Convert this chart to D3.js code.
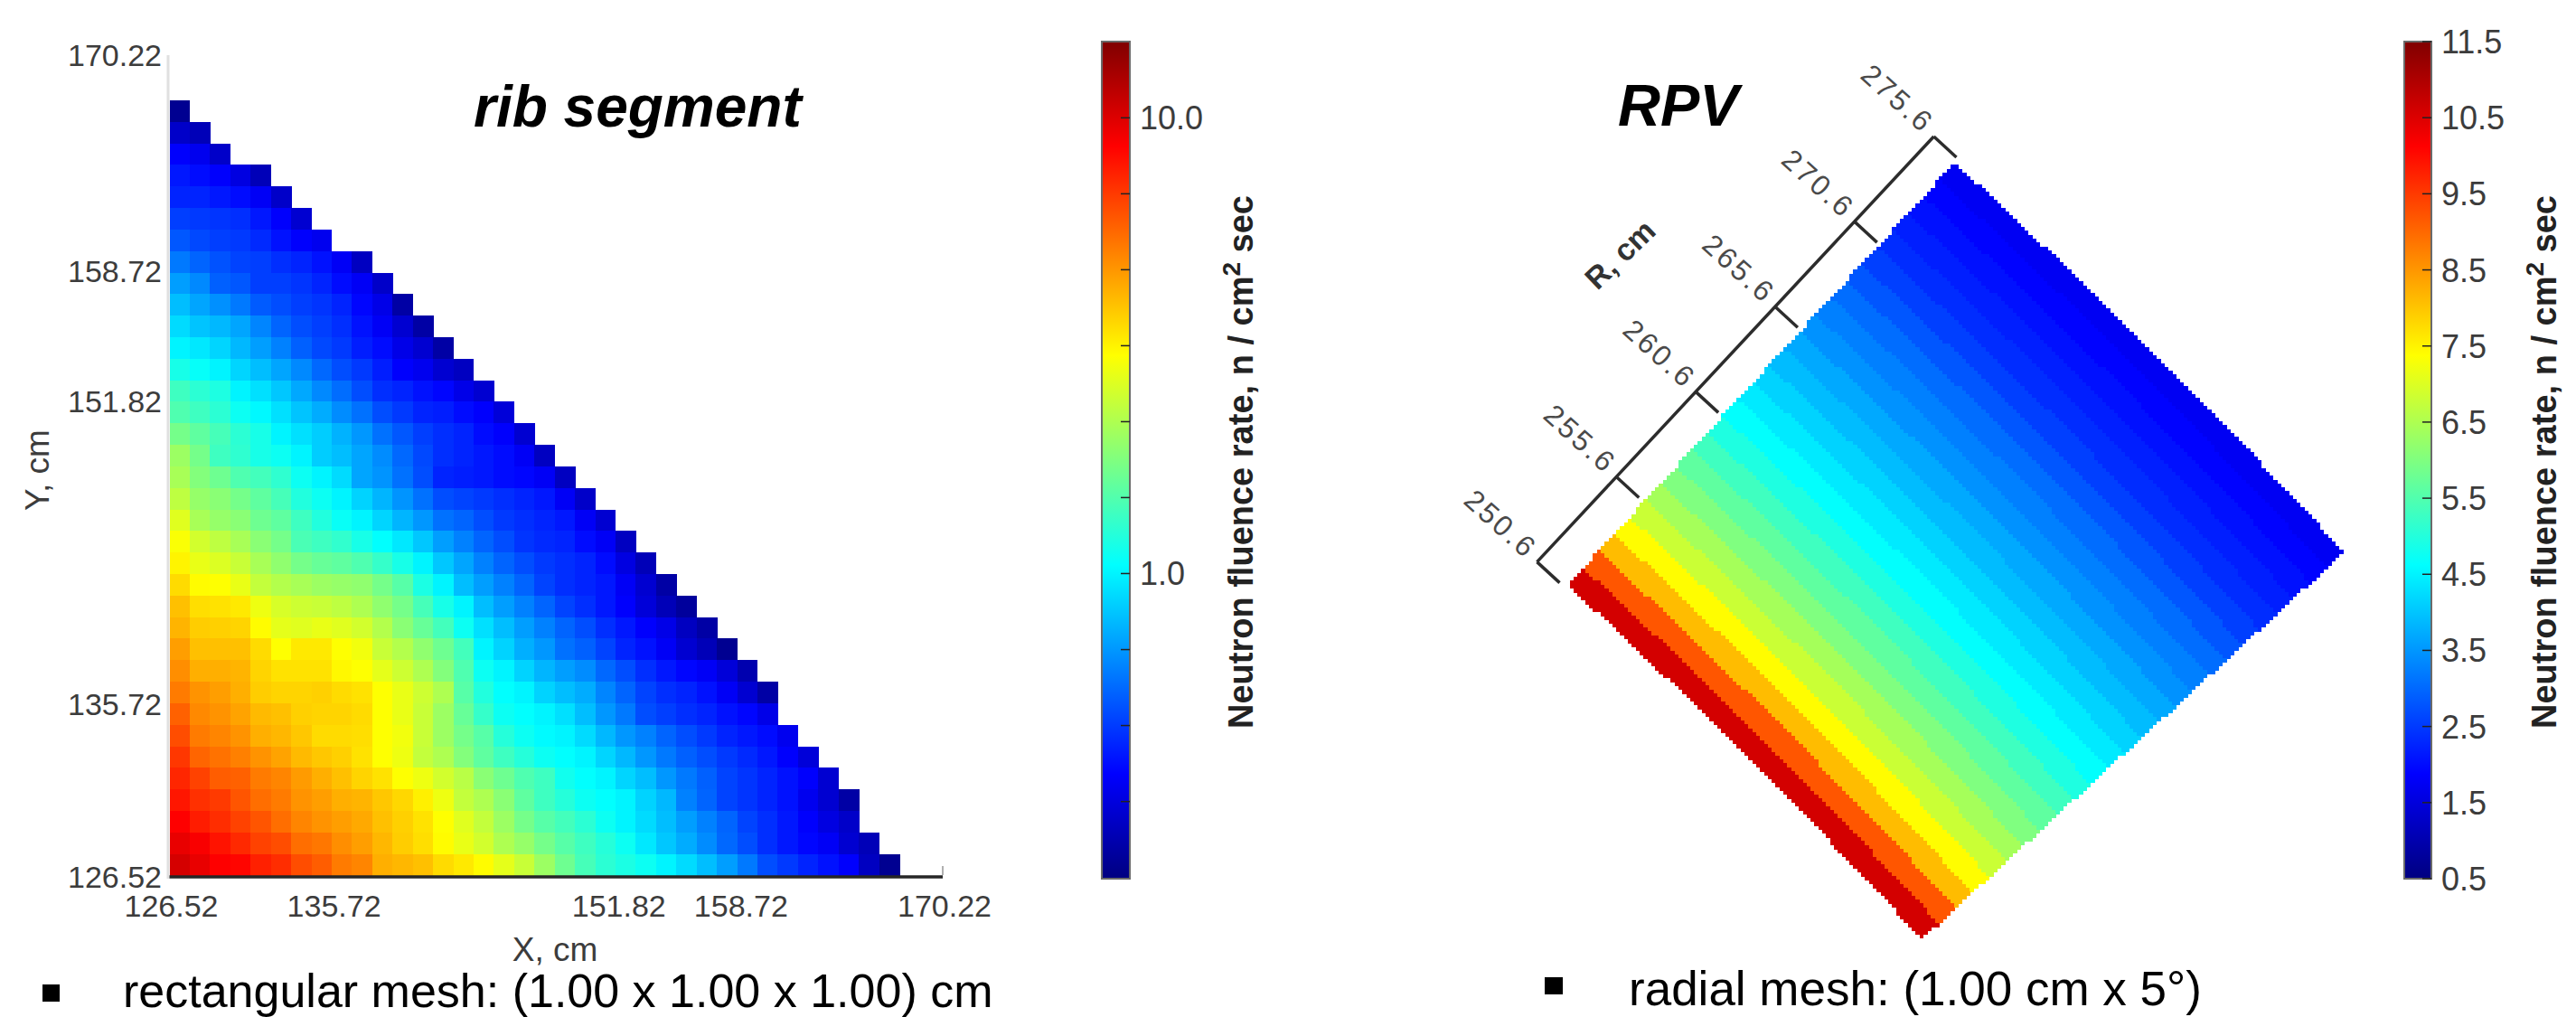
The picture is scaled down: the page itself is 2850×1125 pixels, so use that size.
<!DOCTYPE html>
<html><head><meta charset="utf-8">
<script src="https://cdn.jsdelivr.net/npm/d3@7"></script>
<style>
html,body{margin:0;padding:0;background:#fff}
svg{display:block}
text{font-family:"Liberation Sans",Arial,sans-serif}
</style></head><body>
<svg id="c" width="2850" height="1125"></svg>
<script>
// ---- rib segment: neutron fluence rate per mesh cell, top row first (rows are left-aligned at X = 126.52)
const ribRows = [
[.23],
[.29,.27],
[.36,.34,.29],
[.40,.38,.36,.32,.27],
[.42,.42,.40,.38,.35,.29],
[.47,.46,.45,.44,.40,.36,.30],
[.52,.49,.47,.46,.43,.39,.36,.34],
[.60,.55,.51,.48,.47,.44,.42,.39,.35,.28],
[.70,.64,.54,.52,.47,.47,.45,.42,.38,.35,.29],
[.80,.72,.66,.60,.53,.50,.47,.45,.42,.37,.33,.25],
[.90,.82,.78,.72,.63,.55,.50,.47,.44,.39,.35,.30,.25],
[1.0,.95,.88,.78,.70,.62,.54,.49,.46,.41,.38,.33,.30,.25],
[1.15,1.07,1.0,.88,.80,.72,.64,.56,.50,.46,.41,.36,.34,.30,.28],
[1.35,1.25,1.18,1.0,.92,.83,.73,.64,.57,.50,.44,.42,.39,.37,.33,.30],
[1.45,1.35,1.25,1.1,1.02,.92,.82,.74,.65,.58,.50,.46,.42,.41,.38,.36,.31],
[1.7,1.55,1.4,1.25,1.15,1.0,.92,.85,.76,.68,.58,.52,.47,.44,.42,.38,.36,.30],
[2.0,1.7,1.35,1.27,1.15,1.1,1.0,.85,.80,.72,.65,.56,.49,.44,.42,.40,.38,.35,.28],
[2.1,1.8,1.65,1.45,1.38,1.27,1.1,1.0,.90,.72,.67,.58,.50,.42,.41,.40,.38,.37,.35,.28],
[2.3,1.95,1.85,1.7,1.55,1.4,1.2,1.1,1.0,.87,.77,.67,.58,.50,.48,.46,.44,.42,.40,.35,.29],
[2.65,2.1,1.95,1.85,1.65,1.55,1.35,1.2,1.08,1.0,.88,.77,.68,.58,.55,.50,.46,.44,.42,.40,.35,.30],
[2.95,2.5,2.3,2.1,1.85,1.7,1.42,1.35,1.28,1.15,1.05,.95,.83,.70,.62,.55,.50,.45,.43,.42,.38,.35,.28],
[3.15,2.75,2.6,2.4,2.1,1.9,1.7,1.6,1.55,1.45,1.3,1.15,1.0,.83,.72,.62,.55,.50,.46,.44,.42,.38,.32,.27],
[3.5,3.05,3.0,2.75,2.35,2.2,2.1,2.0,1.95,1.9,1.7,1.5,1.17,1.0,.80,.70,.62,.55,.48,.44,.42,.40,.35,.30,.25],
[3.9,3.45,3.4,3.3,2.8,2.55,2.45,2.4,2.3,2.15,1.9,1.7,1.4,1.15,1.0,.80,.70,.62,.55,.48,.44,.40,.36,.31,.27,.24],
[4.1,3.7,3.65,3.6,3.05,2.7,2.65,2.75,2.65,2.5,2.2,1.85,1.6,1.38,1.1,.92,.80,.70,.62,.55,.50,.44,.40,.36,.33,.28,.25],
[4.5,3.9,3.9,3.9,3.5,3.0,3.3,3.3,3.0,2.85,2.4,2.2,1.9,1.65,1.38,1.0,.87,.75,.68,.58,.54,.48,.42,.39,.35,.30,.27,.23],
[4.8,4.2,4.2,4.1,3.6,3.4,3.4,3.4,3.1,3.0,2.7,2.45,2.15,1.8,1.45,1.1,1.0,.87,.77,.70,.65,.56,.50,.44,.40,.37,.35,.31,.26],
[5.2,4.7,4.5,4.2,3.7,3.6,3.6,3.65,3.5,3.4,3.0,2.75,2.45,2.15,1.5,1.2,1.05,1.0,.87,.80,.74,.63,.55,.48,.44,.42,.39,.35,.30,.25],
[5.8,4.9,4.7,4.4,4.0,3.9,3.65,3.6,3.6,3.5,3.0,2.75,2.4,2.0,1.6,1.3,1.1,1.05,1.0,.92,.80,.68,.60,.50,.47,.44,.42,.39,.37,.33],
[6.3,5.2,5.0,4.7,4.2,4.05,3.8,3.5,3.5,3.45,3.0,2.85,2.4,2.0,1.7,1.5,1.22,1.1,1.03,1.0,.90,.78,.68,.62,.55,.50,.46,.42,.40,.38,.34],
[6.9,5.7,5.4,5.1,4.7,4.4,4.0,3.8,3.65,3.4,3.0,2.8,2.35,2.15,1.8,1.55,1.35,1.22,1.1,1.05,1.0,.88,.78,.68,.60,.54,.50,.46,.43,.40,.36,.31],
[7.4,6.6,5.9,5.8,5.2,5.0,4.55,4.2,3.9,3.6,3.4,3.0,2.8,2.5,2.25,1.85,1.65,1.45,1.35,1.12,1.05,1.0,.88,.80,.68,.60,.54,.48,.45,.42,.39,.36,.30],
[7.9,7.1,6.8,6.1,5.5,5.2,4.7,4.5,4.2,4.1,3.8,3.55,3.2,2.8,2.35,2.15,1.85,1.55,1.35,1.22,1.1,1.05,1.0,.87,.78,.62,.55,.48,.45,.42,.39,.34,.30,.25],
[8.7,7.7,7.2,6.6,6.1,5.5,5.0,4.7,4.5,4.3,3.9,3.65,3.4,3.0,2.65,2.35,2.0,1.7,1.5,1.38,1.25,1.1,1.0,.90,.80,.70,.62,.55,.48,.44,.40,.36,.32,.29],
[9.5,8.9,8.0,7.3,6.6,6.3,5.5,5.3,4.8,4.5,4.05,3.7,3.45,3.05,2.75,2.5,2.15,1.95,1.7,1.5,1.35,1.22,1.1,.95,.83,.74,.65,.56,.50,.44,.40,.37,.35,.30,.27],
[10.3,9.5,8.7,8.5,7.6,7.2,6.3,5.9,5.2,5.0,4.2,4.05,3.9,3.5,3.3,3.05,2.7,2.4,2.0,1.65,1.4,1.25,1.17,1.1,1.0,.90,.80,.70,.60,.50,.46,.42,.39,.36,.28,.23]
];
// ---- RPV: fluence rate per 1 cm radial shell, inner (250.6) to outer (275.6)
const rpvBands = [10.6,9.2,8.1,7.4,6.8,6.4,6.0,5.65,5.3,4.95,4.65,4.4,4.15,3.9,3.7,3.45,3.25,3.05,2.8,2.55,2.35,2.2,2.05,1.9,1.75];
const axisTicks = [126.52,135.72,151.82,158.72,170.22];
const axisExtent = [126.52,170.22];
const radialTicks = [250.6,255.6,260.6,265.6,270.6,275.6];
const radialExtent = [250.6,275.6];
const ribDomain = [0.214,14.7];
const ribBarLabels = [1,10];
const ribBarMinor = [0.316,0.464,0.681,1,1.468,2.154,3.162,4.642,6.813,10];
const rpvDomain = [0.5,11.5];
const rpvBarTicks = [0.5,1.5,2.5,3.5,4.5,5.5,6.5,7.5,8.5,9.5,10.5,11.5];
const jetStops = [0,.125,.375,.625,.875,1];
const jetColors = ["#000080","#0000ff","#00ffff","#ffff00","#ff0000","#800000"];

const jet = d3.scaleLinear().domain(jetStops).range(jetColors).interpolate(d3.interpolateRgb).clamp(true);
const ribT = d3.scaleLog().domain(ribDomain).range([0,1]);
const rpvT = d3.scaleLinear().domain(rpvDomain).range([0,1]);
const svg = d3.select("#c");
const AXC = "#3c3c3c";

// ---------- rib heat map
const nCells = ribRows.length;
const colX = d3.scaleBand().domain(d3.range(nCells)).range([187.5,995]);
const rowY = d3.scaleBand().domain(d3.range(nCells)).range([111,968.5]);
const cells = ribRows.flatMap((row,r)=>row.map((v,c)=>({r,c,v})));
svg.append("g").attr("shape-rendering","crispEdges").selectAll("rect").data(cells).join("rect")
  .attr("x",d=>colX(d.c)).attr("y",d=>rowY(d.r))
  .attr("width",colX.bandwidth()+.5).attr("height",rowY.bandwidth()+.5)
  .attr("fill",d=>jet(ribT(d.v)));

const xS = d3.scaleLinear().domain(axisExtent).range([187.5,1043]);
const yS = d3.scaleLinear().domain(axisExtent).range([970,61]);
svg.append("line").attr("x1",186).attr("x2",186).attr("y1",yS(170.22)).attr("y2",yS(126.52)+2).attr("stroke","#e0e0e0").attr("stroke-width",3);
svg.append("line").attr("x1",xS(126.52)).attr("x2",xS(170.22)).attr("y1",970).attr("y2",970).attr("stroke","#262626").attr("stroke-width",3.5);
svg.append("line").attr("x1",xS(170.22)).attr("x2",xS(170.22)).attr("y1",958).attr("y2",968).attr("stroke","#b0b0b0").attr("stroke-width",2);
const tickFont = 34;
svg.append("g").selectAll("text").data(axisTicks).join("text")
  .attr("x",179).attr("y",d=>yS(d)).attr("dy","0.36em").attr("text-anchor","end")
  .attr("font-size",tickFont).attr("fill",AXC).text(d=>d.toFixed(2));
svg.append("g").selectAll("text").data(axisTicks).join("text")
  .attr("x",d=>xS(d)+2).attr("y",1002).attr("dy","0.36em").attr("text-anchor","middle")
  .attr("font-size",tickFont).attr("fill",AXC).text(d=>d.toFixed(2));
svg.append("text").attr("x",614).attr("y",1050).attr("dy","0.36em").attr("text-anchor","middle").attr("font-size",37).attr("fill",AXC).text("X, cm");
svg.append("text").attr("transform","translate(41,520) rotate(-90)").attr("dy","0.36em").attr("text-anchor","middle").attr("font-size",37).attr("fill",AXC).text("Y, cm");

// titles
svg.append("text").attr("x",524).attr("y",140).attr("font-size",64).attr("font-weight","bold").attr("font-style","italic").attr("fill","#000").text("rib segment");
svg.append("text").attr("x",1790).attr("y",139).attr("font-size",65).attr("font-weight","bold").attr("font-style","italic").attr("fill","#000").text("RPV");

// footnotes
svg.append("rect").attr("x",47).attr("y",1089).attr("width",19).attr("height",19).attr("fill","#000");
svg.append("text").attr("x",136).attr("y",1113.5).attr("font-size",52).attr("fill","#000").text("rectangular mesh: (1.00 x 1.00 x 1.00) cm");
svg.append("rect").attr("x",1709).attr("y",1081).attr("width",20).attr("height",19).attr("fill","#000");
svg.append("text").attr("x",1802).attr("y",1112).attr("font-size",53).attr("fill","#000").text("radial mesh: (1.00 cm x 5°)");

// ---------- colour bars
const defs = svg.append("defs");
const grad = defs.append("linearGradient").attr("id","jetGrad").attr("x1",0).attr("x2",0).attr("y1",1).attr("y2",0);
grad.selectAll("stop").data(jetStops).join("stop").attr("offset",d=>d).attr("stop-color",d=>jet(d));
function colourBar(x0,x1,ticks,labels,pos,fmt,lx){
  const g = svg.append("g");
  g.append("rect").attr("x",x0).attr("y",46).attr("width",x1-x0).attr("height",926).attr("fill","url(#jetGrad)").attr("stroke","#6a6a6a").attr("stroke-width",2);
  g.selectAll("line").data(ticks).join("line").attr("x1",x1-10).attr("x2",x1).attr("y1",pos).attr("y2",pos).attr("stroke","#222").attr("stroke-width",1.5);
  g.selectAll("text").data(labels).join("text").attr("x",lx).attr("y",pos).attr("dy","0.36em").attr("font-size",36).attr("fill",AXC).text(fmt);
}
const ribBarY = d3.scaleLog().domain(ribDomain).range([972,46]);
const rpvBarY = d3.scaleLinear().domain(rpvDomain).range([972,46]);
colourBar(1219,1250,ribBarMinor,ribBarLabels,ribBarY,d=>d.toFixed(1),1261);
colourBar(2660,2690,rpvBarTicks,rpvBarTicks,rpvBarY,d=>d.toFixed(1),2701);

function barTitle(cx){
  const t = svg.append("text").attr("transform",`translate(${cx},806) rotate(-90) scale(1.0,1)`)
    .attr("font-size",38).attr("font-weight","bold").attr("fill","#222");
  t.append("tspan").text("Neutron fluence rate, n / cm");
  t.append("tspan").attr("dy",-14).attr("font-size",28).text("2");
  t.append("tspan").attr("dy",14).text(" sec");
}
barTitle(1386);
barTitle(2828);

// ---------- RPV polar sector, rastered on a coarse pixel grid like the source
const pxPerCm = 25.33;
const cx = -2554, cy = 5327;
const rS = d3.scaleLinear().domain(radialExtent).range([250.6*pxPerCm,275.6*pxPerCm]);
const thetaRange = [42.5*Math.PI/180,47.5*Math.PI/180];
const block = 4.3;
const runs = [];
for(let j=0;j<Math.round(900/block);j++){
  const y = 165+j*block;
  let cur=null;
  for(let i=0;i<Math.round(900/block);i++){
    const x = 1715+i*block;
    const dx=x+block/2-cx, dy=y+block/2-cy;
    const R=rS.invert(Math.hypot(dx,dy)), th=Math.atan2(dx,-dy);
    const inside = R>=radialExtent[0]&&R<radialExtent[1]&&th>=thetaRange[0]&&th<=thetaRange[1];
    const b = inside?Math.floor(R-radialExtent[0]):-1;
    if(cur&&cur.b===b){cur.w+=block;}
    else{ if(cur&&cur.b>=0)runs.push(cur); cur={x,y,w:block,b}; }
  }
  if(cur&&cur.b>=0)runs.push(cur);
}
svg.append("g").attr("shape-rendering","crispEdges").selectAll("rect").data(runs).join("rect")
  .attr("x",d=>d.x).attr("y",d=>d.y).attr("width",d=>d.w+.5).attr("height",block+.5)
  .attr("fill",d=>jet(rpvT(rpvBands[d.b])));

// radial axis
const axX = d3.scaleLinear().domain(radialExtent).range([1700.5,2139.5]);
const axY = d3.scaleLinear().domain(radialExtent).range([621.6,151]);
const axG = svg.append("g");
axG.append("line").attr("x1",axX(250.6)).attr("y1",axY(250.6)).attr("x2",axX(275.6)).attr("y2",axY(275.6)).attr("stroke","#2c2c2c").attr("stroke-width",3.5);
axG.selectAll("line.t").data(radialTicks).join("line").attr("class","t")
  .attr("x1",d=>axX(d)).attr("y1",d=>axY(d)).attr("x2",d=>axX(d)+25).attr("y2",d=>axY(d)+23).attr("stroke","#2c2c2c").attr("stroke-width",3.5);
axG.selectAll("text").data(radialTicks).join("text")
  .attr("transform",d=>`translate(${axX(d)-12},${axY(d)-2}) rotate(42)`)
  .attr("text-anchor","end").attr("font-size",32).attr("fill","#4a4a4a").attr("letter-spacing",3).text(d=>d.toFixed(1));
svg.append("text").attr("transform","translate(1792,281) rotate(-44)").attr("text-anchor","middle").attr("dy","0.36em").attr("font-size",34).attr("font-weight","bold").attr("fill","#333").text("R, cm");
</script>
</body></html>
